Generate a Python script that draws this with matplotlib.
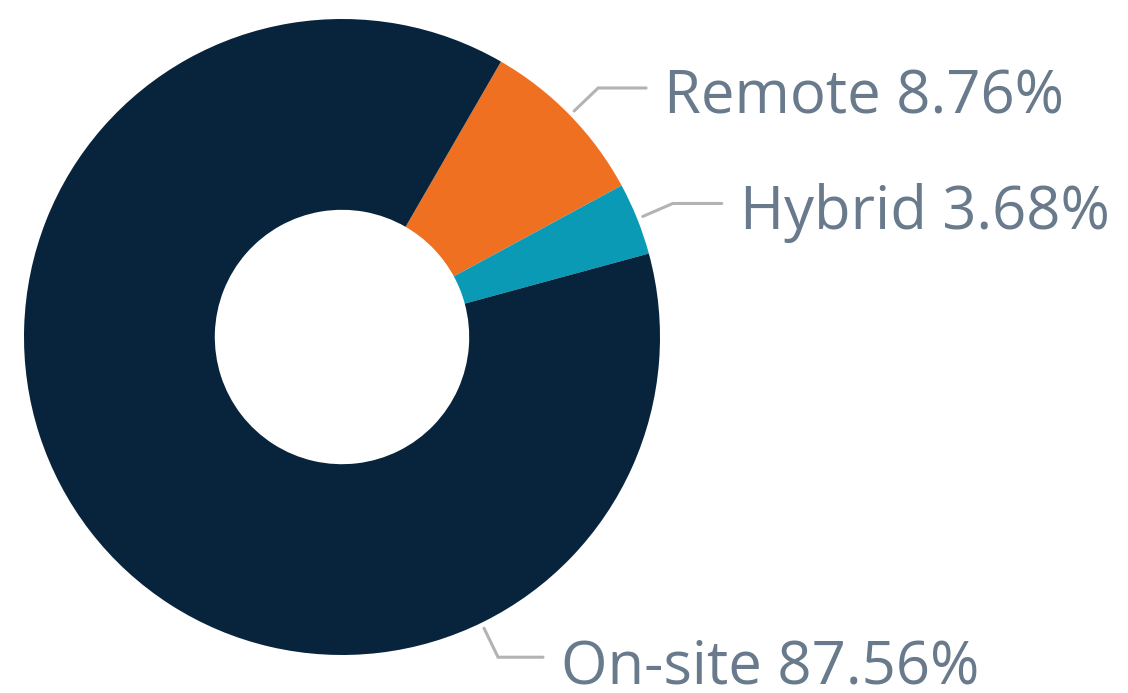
import numpy as np
import matplotlib
matplotlib.use('Agg')
import matplotlib.pyplot as plt

# work arrangement shares
labels = ['Remote', 'Hybrid', 'On-site']
shares = [8.76, 3.68, 87.56]
colors = ['#f07021', '#0a9ab5', '#08243d']

W, H = 1128, 693
cx, cy, R = 342, 356, 318
start = 60

fig = plt.figure(figsize=(W/100, H/100), dpi=100)
ax = fig.add_axes([0, 0, 1, 1])

wedges, _ = ax.pie(shares, colors=colors, startangle=start, counterclock=False,
                   center=(cx, cy), radius=R, frame=True,
                   wedgeprops=dict(width=R*0.6, linewidth=0))
ax.set_xlim(0, W)
ax.set_ylim(0, H)
ax.set_aspect('equal')
ax.axis('off')

# label layout: (anchor angle override, elbow dx, dy, horizontal length)
layout = {
    'Remote': (None, 24, 23, 48),
    'Hybrid': (None, 30, 13, 49),
    'On-site': (-64, 14, -29, 45),
}
for w, lab, val in zip(wedges, labels, shares):
    ang, ex, ey, hl = layout[lab]
    if ang is None:
        ang = (w.theta1 + w.theta2) / 2
    r = R + 6
    x0 = cx + r*np.cos(np.radians(ang))
    y0 = cy + r*np.sin(np.radians(ang))
    x1, y1 = x0 + ex, y0 + ey
    x2 = x1 + hl
    ax.plot([x0, x1, x2], [y0, y1, y1], color='#b3b3b3', lw=2.2,
            solid_capstyle='round', solid_joinstyle='miter')
    ax.text(x2 + 18, y1 - 26, f'{lab} {val:.2f}%', fontsize=43,
            family=['Open Sans', 'DejaVu Sans'], color='#687a8b',
            ha='left', va='baseline')

fig.savefig('out.png', dpi=100)
